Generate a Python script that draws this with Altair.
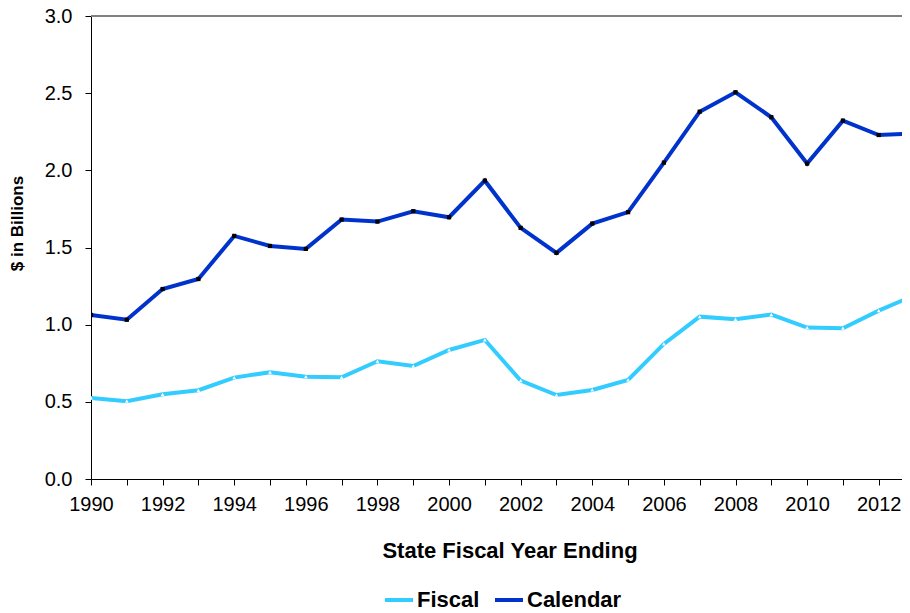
import altair as alt
import pandas as pd

years = list(range(1990, 2014))
fiscal = [0.525, 0.504, 0.549, 0.575, 0.657, 0.692, 0.663, 0.659, 0.763, 0.732,
          0.836, 0.901, 0.637, 0.544, 0.577, 0.642, 0.875, 1.052, 1.035, 1.065,
          0.981, 0.977, 1.091, 1.19]
calendar = [1.063, 1.032, 1.231, 1.296, 1.575, 1.510, 1.491, 1.681, 1.668, 1.735,
            1.696, 1.933, 1.627, 1.465, 1.655, 1.729, 2.050, 2.380, 2.506, 2.344,
            2.044, 2.322, 2.229, 2.24]
series_names = ["Fiscal", "Calendar"]
series_colors = ["#33CCFF", "#0033CC"]
x_ticks = list(range(1990, 2013))
y_ticks = [0.0, 0.5, 1.0, 1.5, 2.0, 2.5, 3.0]

df = pd.DataFrame({
    "year": years + years,
    "value": fiscal + calendar,
    "series": ["Fiscal"] * len(years) + ["Calendar"] * len(years),
})

FONT = "Liberation Sans"

x_enc = alt.X(
    "year:Q",
    scale=alt.Scale(domain=[1990, 2012.65], nice=False, zero=False),
    axis=alt.Axis(
        values=x_ticks,
        format="d",
        labelExpr="datum.value % 2 == 0 ? datum.label : ''",
        labelOverlap=False,
        labelFlush=False,
        grid=False,
        title="State Fiscal Year Ending",
        titleX=418.5,
        titleY=78,
        titleBaseline="alphabetic",
        titleFontSize=22,
        titleFontWeight="bold",
        labelPadding=9,
    ),
)
y_enc = alt.Y(
    "value:Q",
    scale=alt.Scale(domain=[0, 3], nice=False, zero=True),
    axis=alt.Axis(
        values=y_ticks,
        format=".1f",
        grid=False,
        title="$ in Billions",
        titleX=-69,
        titleY=207,
        titleAngle=-90,
        titleBaseline="alphabetic",
        titleFontSize=17,
        titleFontWeight="bold",
        labelPadding=13,
    ),
)

base = alt.Chart(df)

top_rule = alt.Chart(df).mark_rule(color="#808080", strokeWidth=1).encode(
    y=alt.value(0)
)

lines = base.mark_line(strokeWidth=4, clip=True).encode(
    x=x_enc,
    y=y_enc,
    color=alt.Color(
        "series:N",
        scale=alt.Scale(domain=series_names, range=series_colors),
        sort=series_names,
        legend=alt.Legend(
            orient="none",
            legendX=292,
            legendY=568,
            direction="horizontal",
            title=None,
            symbolType="stroke",
            symbolStrokeWidth=4,
            symbolSize=784,
            labelFontSize=22,
            labelFontWeight="bold",
            labelFont=FONT,
            labelColor="black",
            labelOffset=2,
            columnPadding=7,
            gridAlign="none",
            padding=0,
        ),
    ),
    detail="series:N",
)

fiscal_pts = base.transform_filter(alt.datum.series == "Fiscal").mark_point(
    shape="triangle-up", filled=True, color="white", size=14, opacity=1, clip=True
).encode(x=x_enc, y=y_enc)

calendar_pts = base.transform_filter(alt.datum.series == "Calendar").mark_point(
    shape="square", filled=True, color="black", size=18, opacity=1, clip=True
).encode(x=x_enc, y=y_enc)

chart = alt.layer(top_rule, lines, fiscal_pts, calendar_pts).properties(
    width=811,
    height=463,
    background="white",
    autosize=alt.AutoSizeParams(type="none"),
    padding={"left": 83, "top": 8, "right": 0, "bottom": 133},
).configure_view(stroke=None).configure_axis(
    grid=False,
    domainColor="black",
    domainWidth=1,
    tickColor="black",
    tickSize=6,
    tickWidth=1,
    labelFont=FONT,
    labelFontSize=20,
    labelColor="black",
    titleFont=FONT,
    titleColor="black",
)

chart.save("out.html", embed_options={"renderer": "svg", "actions": False})
